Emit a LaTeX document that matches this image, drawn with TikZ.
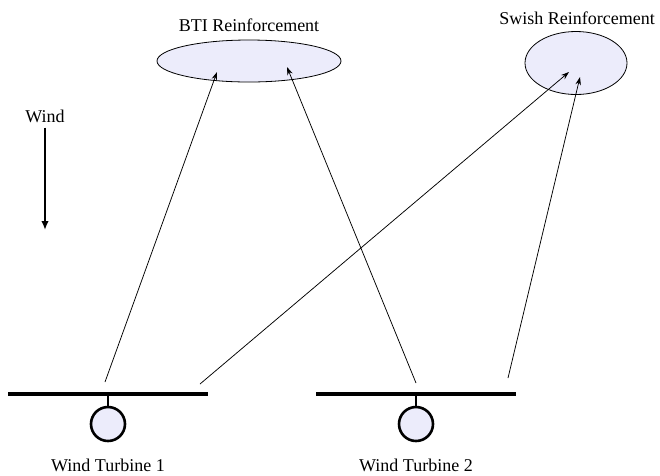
\documentclass[tikz,border=0pt]{standalone}
\usepackage{fontspec}
\setmainfont{Liberation Serif}
\usetikzlibrary{shapes.geometric,arrows.meta,positioning}
\definecolor{palefill}{RGB}{236,236,251}

\begin{document}
\begin{tikzpicture}
	[x=1pt,y=-1pt,
	goal/.style={ellipse,draw,fill=palefill,line width=0.8pt,inner sep=0pt},
	lbl/.style={font=\fontsize{18}{20}\selectfont,inner sep=0pt},
	link/.style={-{Stealth[length=8pt,width=5.5pt]},line width=0.75pt},
	bar/.style={line width=3.2pt},
	rotor/.style={circle,draw,line width=2.6pt,fill=palefill,minimum size=34pt,inner sep=0pt}]
	\useasboundingbox (0,0) rectangle (660,475);
	% reinforcement targets
	\node[goal,minimum width=184pt,minimum height=42pt] (bti) at (249,61) {};
	\node[lbl] (bti-lbl) at (249,25) {BTI Reinforcement};
	\node[goal,minimum width=102pt,minimum height=63pt] (swish) at (576,63) {};
	\node[lbl] (swish-lbl) at (577,18) {Swish Reinforcement};
	% wind direction
	\node[lbl] (wind) at (45,116) {Wind};
	\coordinate (wind-end) at (45,230);
	\draw[-{Latex[length=9pt,width=7.5pt]},line width=2.6pt] (wind.south) ++(0,5) coordinate (wind-start) (wind-start) -- (wind-end);
	% turbines
	\foreach \i/\x in {1/108,2/416}{
		\coordinate (t\i-l) at (\x-100,394);
		\coordinate (t\i-r) at (\x+100,394);
		\coordinate (t\i-hub) at (\x,394);
		\node[rotor] (t\i) at (\x,424) {};
		\node[lbl] (t\i-lbl) at (\x,465) {Wind Turbine \i};
		\draw[bar] (t\i-l) -- (t\i-r);
		\draw[line width=2.6pt] (t\i-hub) -- (t\i);
	}
	% arrow ends
	\coordinate (a1) at (105,382);
	\coordinate (a2) at (200,384);
	\coordinate (a3) at (416,383);
	\coordinate (a4) at (508,378);
	\coordinate (bti-in1) at ([shift={(-32,11)}]bti.center);
	\coordinate (bti-in2) at ([shift={(38,6)}]bti.center);
	\coordinate (swish-in1) at ([shift={(-7,9)}]swish.center);
	\coordinate (swish-in2) at ([shift={(4,14)}]swish.center);
	\draw[link] (a1) -- (bti-in1);
	\draw[link] (a3) -- (bti-in2);
	\draw[link] (a2) -- (swish-in1);
	\draw[link] (a4) -- (swish-in2);
\end{tikzpicture}
\end{document}
